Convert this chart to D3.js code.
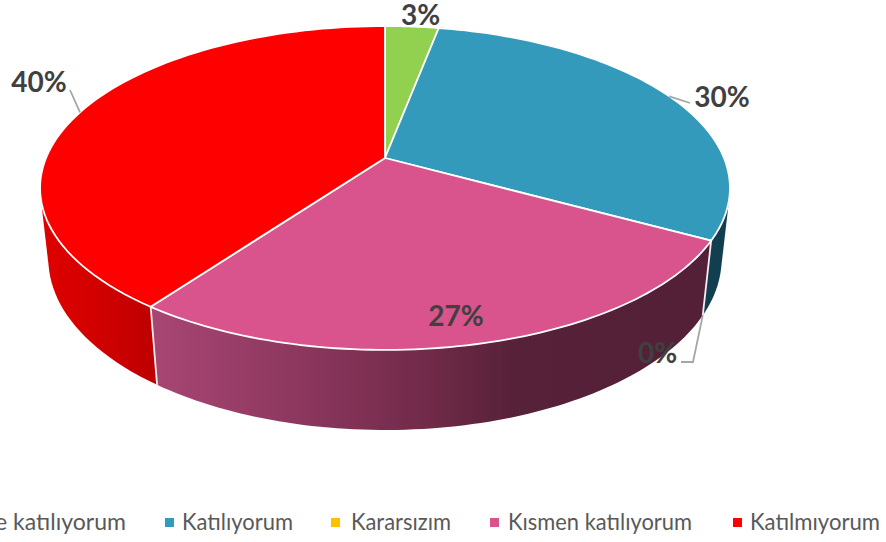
<!DOCTYPE html>
<html>
<head>
<meta charset="utf-8">
<script src="https://cdn.jsdelivr.net/npm/d3@7"></script>
<style>
  html, body { margin: 0; padding: 0; background: #fff; overflow: hidden; }
  text { font-family: Lato, "Open Sans", sans-serif; }
</style>
</head>
<body>
<div id="chart"></div>
<script>
// chart data
const categories = ["Kesinlikle katılıyorum", "Katılıyorum", "Kararsızım", "Kısmen katılıyorum", "Katılmıyorum"];
const values = [3, 30, 0, 27, 40];
const colors = ["#92D050", "#339ABB", "#FFC000", "#D9538C", "#FF0000"];

const width = 886, height = 542;

// perspective of the tilted disc
const apex = {x: 385, y: 158};
const scaleX = 339, scaleY = 156.4, tilt = 0.185;
const depthW = 0.024, depthY = 71.8;

// a = clockwise from 12 o'clock, r = 0..1 on the disc, z = 0 top face, 1 bottom face
function project(a, r, z) {
    let px = r * Math.sin(a);
    let py = -r * Math.cos(a);
    let w = 1 - tilt * py + depthW * z;
    return [apex.x + scaleX * px / w, apex.y + (scaleY * py + depthY * z) / w];
}

let svg = d3.select("#chart").append("svg")
    .attr("width", width)
    .attr("height", height)
    .style("display", "block");

let color = d3.scaleOrdinal().domain(categories).range(colors);

let arcs = d3.pie().sort(null).value(function(d) { return d; })(values);
arcs.forEach(function(d, i) { d.category = categories[i]; });
let drawn = arcs.filter(function(d) { return d.value > 0; });

function ring(d, z) {
    let n = 80, pts = [];
    for (let i = 0; i <= n; i++) {
        let a = d.startAngle + (d.endAngle - d.startAngle) * i / n;
        pts.push(project(a, 1, z));
    }
    return pts;
}

let line = d3.line();

// wall gradients
const wallStops = {
    "Kesinlikle katılıyorum": [[0, "#6f9e3d"], [1, "#6f9e3d"]],
    "Katılıyorum": [[0, "#123f50"], [1, "#123f50"]],
    "Kısmen katılıyorum": [[0, "#a84673"], [0.27, "#8c375e"], [0.5, "#702a48"], [0.65, "#562139"], [1, "#532038"]],
    "Katılmıyorum": [[0, "#e00000"], [0.5, "#d20000"], [1, "#bf0000"]]
};
let defs = svg.append("defs");
drawn.forEach(function(d, i) {
    d.wallId = "wall" + i;
    let xs = ring(d, 0).map(function(p) { return p[0]; });
    let g = defs.append("linearGradient")
        .attr("id", d.wallId)
        .attr("gradientUnits", "userSpaceOnUse")
        .attr("x1", d3.min(xs))
        .attr("x2", project(d.startAngle, 1, 0)[0])
        .attr("y1", 0).attr("y2", 0);
    wallStops[d.category].forEach(function(s) {
        g.append("stop").attr("offset", s[0]).attr("stop-color", s[1]);
    });
});

// the slice nearest the viewer has to be painted last
function frontness(d) {
    return -Math.abs((d.startAngle + d.endAngle) / 2 - Math.PI);
}

// outer walls, hull so the straight side silhouette is filled too
svg.append("g").selectAll("path")
    .data(drawn.slice().sort(function(a, b) { return frontness(a) - frontness(b); }))
    .enter().append("path")
    .attr("d", function(d) { return line(d3.polygonHull(ring(d, 0).concat(ring(d, 1)))) + "Z"; })
    .attr("fill", function(d) { return "url(#" + d.wallId + ")"; });

// white edges between the walls on the near side
svg.append("g").selectAll("line")
    .data(drawn.filter(function(d) { return d.startAngle > Math.PI / 2 && d.startAngle < 3 * Math.PI / 2; }))
    .enter().append("line")
    .attr("x1", function(d) { return project(d.startAngle, 1, 0)[0]; })
    .attr("y1", function(d) { return project(d.startAngle, 1, 0)[1]; })
    .attr("x2", function(d) { return project(d.startAngle, 1, 1)[0]; })
    .attr("y2", function(d) { return project(d.startAngle, 1, 1)[1]; })
    .attr("stroke", "#f6eef1")
    .attr("stroke-width", 1.8);

// top face
svg.append("g").selectAll("path")
    .data(drawn)
    .enter().append("path")
    .attr("d", function(d) { return line([[apex.x, apex.y]].concat(ring(d, 0))) + "Z"; })
    .attr("fill", function(d) { return color(d.category); })
    .attr("stroke", "#fff")
    .attr("stroke-width", 1.8)
    .attr("stroke-linejoin", "round");

// labels: where the text goes and its leader, per category
const labelLayout = {
    "Kesinlikle katılıyorum": {x: 420.5, y: 25},
    "Katılıyorum": {x: 722, y: 107, leader: [[690, 103]]},
    "Kararsızım": {x: 657.5, y: 363, leader: [[693, 362], [681, 362]], z: 1},
    "Kısmen katılıyorum": {x: 456, y: 326},
    "Katılmıyorum": {x: 39, y: 92, leader: [[70, 90]]}
};

let labels = svg.append("g");
arcs.forEach(function(d) {
    let l = labelLayout[d.category];
    if (l.leader) {
        let mid = (d.startAngle + d.endAngle) / 2;
        labels.append("path")
            .attr("d", line([project(mid, 1, l.z || 0)].concat(l.leader)))
            .attr("fill", "none")
            .attr("stroke", "#A6A6A6")
            .attr("stroke-width", 1.8);
    }
});
labels.selectAll("text")
    .data(arcs)
    .enter().append("text")
    .attr("x", function(d) { return labelLayout[d.category].x; })
    .attr("y", function(d) { return labelLayout[d.category].y; })
    .attr("text-anchor", "middle")
    .attr("font-size", 28)
    .attr("font-weight", 700)
    .attr("fill", "#404040")
    .text(function(d) { return d.value + "%"; });

// legend, first entry runs off the left edge like in the source
const legendSwatch = [-20, 165, 331, 490, 733];
const legendTextEnd = [126, 293, 451, 692, 880];
const legendTextLen = [214, 111, 100, 184, 130];

let legend = svg.append("g").selectAll("g")
    .data(categories)
    .enter().append("g");
legend.append("rect")
    .attr("x", function(d, i) { return legendSwatch[i]; })
    .attr("y", 518)
    .attr("width", 9)
    .attr("height", 9)
    .attr("fill", function(d) { return color(d); });
legend.append("text")
    .attr("x", function(d, i) { return legendTextEnd[i]; })
    .attr("y", 530)
    .attr("text-anchor", "end")
    .attr("font-size", 23.5)
    .attr("fill", "#595959")
    .attr("textLength", function(d, i) { return legendTextLen[i]; })
    .attr("lengthAdjust", "spacingAndGlyphs")
    .text(function(d) { return d; });
</script>
</body>
</html>
